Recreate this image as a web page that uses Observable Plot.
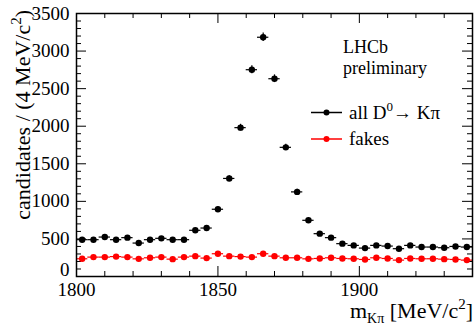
<!DOCTYPE html>
<html><head><meta charset="utf-8">
<script src="https://cdn.jsdelivr.net/npm/d3@7"></script>
<script src="https://cdn.jsdelivr.net/npm/@observablehq/plot@0.6"></script>
<style>html,body{margin:0;padding:0;background:#fff} svg{display:block}</style>
</head><body><div id="chart"></div>
<script>
// bin centres of m(Kπ) in MeV/c², 4 MeV bins
const massBins = [1802,1806,1810,1814,1818,1822,1826,1830,1834,1838,1842,1846,1850,1854,1858,1862,1866,1870,1874,1878,1882,1886,1890,1894,1898,1902,1906,1910,1914,1918,1922,1926,1930,1934,1938];
// all D0 -> Kπ candidates
const allKpi = [490,490,525,490,517,445,490,508,490,490,615,645,895,1305,1981,2752,3184,2632,1719,1126,748,570,517,437,414,378,414,405,370,414,392,392,383,400,392];
// fakes
const fakes = [236,258,258,265,258,235,249,258,231,258,271,245,303,271,265,258,303,271,249,249,235,240,249,240,236,227,249,240,218,240,236,236,231,227,218];

const xTickLabels = [1800,1850,1900];
const yTickLabels = [500,1000,1500,2000,2500,3000,3500];
const yZeroLabel = [0];
const xMajorTicks = [1800,1850,1900];
const xMinorTicks = [1810,1820,1830,1840,1860,1870,1880,1890,1910,1920,1930];
const yMajorTicks = [500,1000,1500,2000,2500,3000];
const yMinorTicks = d3.range(100, 3500, 100).filter(v => v % 500 !== 0);

const halfBin = 2;
const black = massBins.map((m, i) => ({m, v: allKpi[i]}));
const red = massBins.map((m, i) => ({m, v: fakes[i]}));

const W = 476, H = 327, mL = 76, mR = 4, mT = 13, mB = 51;
const fW = W - mL - mR, fH = H - mT - mB;
const font = "'Liberation Serif', 'Times New Roman', serif";

function series(data, color) {
  return [
    Plot.ruleY(data, {y: "v", x1: d => d.m - halfBin, x2: d => d.m + halfBin, stroke: color, strokeWidth: 1.2}),
    Plot.ruleX(data, {x: "m", y1: d => d.v - Math.sqrt(d.v), y2: d => d.v + Math.sqrt(d.v), stroke: color, strokeWidth: 1.2}),
    Plot.dot(data, {x: "m", y: "v", r: 3.2, fill: color, stroke: "none"})
  ];
}

function annotations() {
  const g = d3.create("svg:g").attr("font-family", font).attr("fill", "black")
    .attr("text-anchor", "start");
  // y title
  const yt = g.append("text").attr("transform", "translate(30,10) rotate(-90)")
    .attr("text-anchor", "end").attr("font-size", 22);
  yt.append("tspan").text("candidates / (4 MeV/c");
  yt.append("tspan").attr("font-size", 15).attr("dy", -9).text("2");
  yt.append("tspan").attr("dy", 9).text(")");
  // x title
  const xt = g.append("text").attr("x", 473).attr("y", 318)
    .attr("text-anchor", "end").attr("font-size", 22);
  xt.append("tspan").text("m");
  xt.append("tspan").attr("font-size", 14).attr("dy", 5).text("Kπ");
  xt.append("tspan").attr("dy", -5).text(" [MeV/c");
  xt.append("tspan").attr("font-size", 15).attr("dy", -9).text("2");
  xt.append("tspan").attr("dy", 9).text("]");
  // LHCb preliminary
  g.append("text").attr("x", 343).attr("y", 53).attr("font-size", 18).text("LHCb");
  g.append("text").attr("x", 343).attr("y", 74).attr("font-size", 18).text("preliminary");
  // legend
  const entries = [
    {y: 112.5, color: "black", label: "all"},
    {y: 139, color: "red", label: "fakes"}
  ];
  for (const e of entries) {
    g.append("line").attr("x1", 311).attr("x2", 342).attr("y1", e.y).attr("y2", e.y)
      .attr("stroke", e.color).attr("stroke-width", 1.5);
    g.append("circle").attr("cx", 326.5).attr("cy", e.y).attr("r", 3).attr("fill", e.color);
    const t = g.append("text").attr("x", 349).attr("y", e.y + 6).attr("font-size", 19);
    if (e.label === "all") {
      t.append("tspan").text("all D");
      t.append("tspan").attr("font-size", 13).attr("dy", -8).text("0");
      t.append("tspan").attr("dy", 8).text("→ Kπ");
    } else {
      t.text(e.label);
    }
  }
  return g.node();
}

const chart = Plot.plot({
  width: W, height: H,
  marginLeft: mL, marginRight: mR, marginTop: mT, marginBottom: mB,
  style: {fontFamily: font, fontSize: "19px", background: "white", color: "black"},
  x: {domain: [1800, 1940]},
  y: {domain: [0, 3500]},
  marks: [
    // inward ticks on all four sides
    Plot.tickX(xMajorTicks, {x: d => d, insetTop: fH - 10, stroke: "black"}),
    Plot.tickX(xMinorTicks, {x: d => d, insetTop: fH - 5, stroke: "black"}),
    Plot.tickX(xMajorTicks, {x: d => d, insetBottom: fH - 10, stroke: "black"}),
    Plot.tickX(xMinorTicks, {x: d => d, insetBottom: fH - 5, stroke: "black"}),
    Plot.tickY(yMajorTicks, {y: d => d, insetRight: fW - 10, stroke: "black"}),
    Plot.tickY(yMinorTicks, {y: d => d, insetRight: fW - 5, stroke: "black"}),
    Plot.tickY(yMajorTicks, {y: d => d, insetLeft: fW - 10, stroke: "black"}),
    Plot.tickY(yMinorTicks, {y: d => d, insetLeft: fW - 5, stroke: "black"}),
    Plot.axisX({ticks: xTickLabels, tickSize: 0, tickPadding: 6, tickFormat: d3.format("d"), label: null}),
    Plot.axisY({ticks: yTickLabels, tickSize: 0, tickPadding: 7, tickFormat: d3.format("d"), label: null}),
    Plot.axisY({ticks: yZeroLabel, tickSize: 0, tickPadding: 7, dy: -7, tickFormat: d3.format("d"), label: null}),
    ...series(red, "red"),
    ...series(black, "black"),
    Plot.frame({stroke: "black", strokeWidth: 1.5}),
    annotations
  ]
});
document.getElementById("chart").appendChild(chart);
</script>
</body></html>
